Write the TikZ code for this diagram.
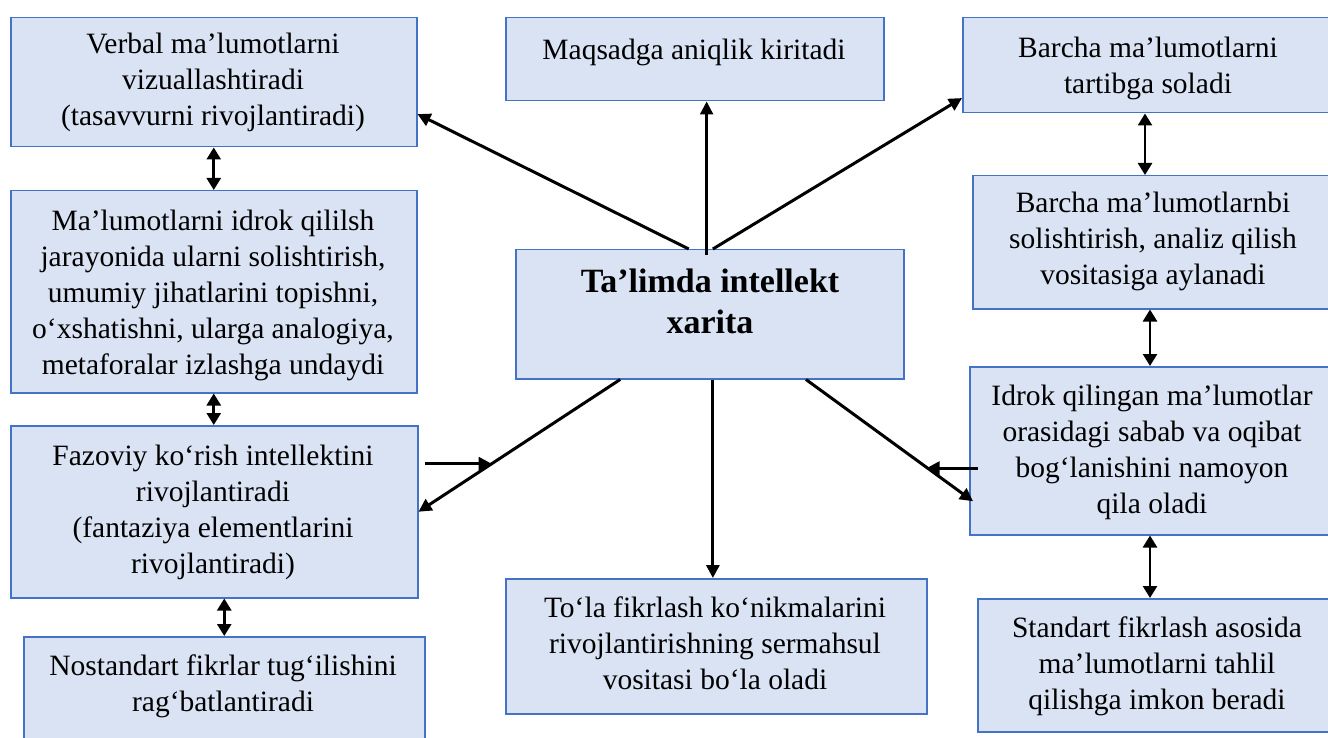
\documentclass[tikz,border=0pt]{standalone}
\usepackage{fontspec}
\setmainfont{Liberation Serif}
\usetikzlibrary{arrows.meta,calc}
\definecolor{boxfill}{RGB}{218,227,243}
\definecolor{boxline}{RGB}{68,114,196}
\newcommand\fsnorm{\fontsize{29.5}{36}\selectfont}
\newcommand\fsbig{\fontsize{34}{41}\selectfont\bfseries}
\begin{document}
\begin{tikzpicture}[x=1pt,y=1pt,
  box/.style={draw=boxline,fill=boxfill,line width=1.5pt,inner sep=0pt,anchor=north west},
  txt/.style={align=center,inner sep=0pt,anchor=north,font=\fsnorm},
  conn/.style={line width=3pt,-{Triangle[length=13pt,width=13pt]}},
  upconn/.style={line width=2.4pt,-{Triangle[length=13pt,width=13pt]}},
  dbl/.style={line width=2.6pt,{Triangle[length=12pt,width=14pt]}-{Triangle[length=12pt,width=14pt]}}]
\useasboundingbox (0,0) rectangle (1328,-738);
\clip (0,0) rectangle (1328,-738);
\fill[white] (0,0) rectangle (1328,-738);
% boxes
\node[box,minimum width=406pt,minimum height=129pt] (verbal) at (10,-17) {};
\node[box,minimum width=406pt,minimum height=202pt] (mal) at (10,-190) {};
\node[box,minimum width=407pt,minimum height=172pt] (faz) at (10,-425) {};
\node[box,minimum width=401pt,minimum height=130pt] (nost) at (23,-636) {};
\node[box,minimum width=378pt,minimum height=83pt] (mqs) at (505,-17) {};
\node[box,minimum width=388pt,minimum height=129pt] (ctr) at (515,-249) {};
\node[box,minimum width=421pt,minimum height=135pt] (tola) at (505,-578) {};
\node[box,minimum width=380pt,minimum height=95pt] (b1) at (962,-17) {};
\node[box,minimum width=370pt,minimum height=133pt] (b2) at (972,-175) {};
\node[box,minimum width=373pt,minimum height=168pt] (idr) at (969,-366) {};
\node[box,minimum width=365pt,minimum height=133pt] (std) at (977,-598) {};
% texts
\node[txt] (tverbal) at (213,-27.8) {\strut Verbal ma’lumotlarni\\vizuallashtiradi\\(tasavvurni rivojlantiradi)};
\node[txt] (tmal) at (213,-204.8) {\strut Ma’lumotlarni idrok qililsh\\jarayonida ularni solishtirish,\\umumiy jihatlarini topishni,\\o‘xshatishni, ularga analogiya,\\metaforalar izlashga undaydi};
\node[txt] (tfaz) at (213,-439.8) {\strut Fazoviy ko‘rish intellektini\\rivojlantiradi\\(fantaziya elementlarini\\rivojlantiradi)};
\node[txt] (tnost) at (223,-649.8) {\strut Nostandart fikrlar tug‘ilishini\\rag‘batlantiradi};
\node[txt] (tmqs) at (694,-33.8) {\strut Maqsadga aniqlik kiritadi};
\node[txt,font=\fsbig] (tctr) at (710,-263.3) {\strut Ta’limda intellekt\\xarita};
\node[txt] (ttola) at (715,-591.8) {\strut To‘la fikrlash ko‘nikmalarini\\rivojlantirishning sermahsul\\vositasi bo‘la oladi};
\node[txt] (tb1) at (1148,-31.8) {\strut Barcha ma’lumotlarni\\tartibga soladi};
\node[txt] (tb2) at (1153,-186.8) {\strut Barcha ma’lumotlarnbi\\solishtirish, analiz qilish\\vositasiga aylanadi};
\node[txt] (tidr) at (1152,-379.8) {\strut Idrok qilingan ma’lumotlar\\orasidagi sabab va oqibat\\bog‘lanishini namoyon\\qila oladi};
\node[txt] (tstd) at (1157,-611.8) {\strut Standart fikrlash asosida\\ma’lumotlarni tahlil\\qilishga imkon beradi};
% connectors from centre
\coordinate (c1) at ($(ctr.north west)!0.446!(ctr.north east)$);
\coordinate (v1) at ($(verbal.north east)!0.744!(verbal.south east)$);
\draw[conn] (c1) -- (v1);
\coordinate (c2) at ($(ctr.north west)!0.492!(ctr.north east)$);
\draw[upconn] ($(c2)+(0,-6)$) -- (c2 |- mqs.south);
\coordinate (c3) at ($(ctr.north west)!0.508!(ctr.north east)$);
\coordinate (bb1) at ($(b1.north west)!0.84!(b1.south west)$);
\draw[conn] (c3) -- (bb1);
\coordinate (c4) at ($(ctr.south west)!0.508!(ctr.south east)$);
\draw[conn,line width=3.2pt] (c4) -- (c4 |- tola.north);
\coordinate (c5) at ($(ctr.south west)!0.27!(ctr.south east)$);
\draw[conn] (c5) -- (faz.east);
\coordinate (m1) at ($(c5)!0.637!(faz.east)$);
\draw[conn] ($(m1 -| faz.east)+(6,0)$) -- (m1);
\coordinate (c6) at ($(ctr.south west)!0.747!(ctr.south east)$);
\coordinate (i1) at ($(idr.north west)!0.786!(idr.south west)$);
\draw[conn] (c6) -- ($(i1)+(4,-2)$);
\coordinate (m2) at ($(c6)!0.74!(i1)$);
\draw[conn] ($(m2 -| idr.west)+(9,0)$) -- (m2);
% vertical double arrows
\draw[dbl] (verbal.south) -- (verbal.south |- mal.north);
\draw[dbl] (mal.south) -- (mal.south |- faz.north);
\draw[dbl] (nost.north |- faz.south) -- (nost.north);
\coordinate (k1) at ($(b1.south west)+(183,0)$);
\draw[dbl] (k1) -- (k1 |- b2.north);
\coordinate (k2) at ($(b2.south west)+(178,0)$);
\draw[dbl] (k2) -- (k2 |- idr.north);
\coordinate (k3) at ($(idr.south west)+(181,0)$);
\draw[dbl] (k3) -- (k3 |- std.north);
\end{tikzpicture}
\end{document}
